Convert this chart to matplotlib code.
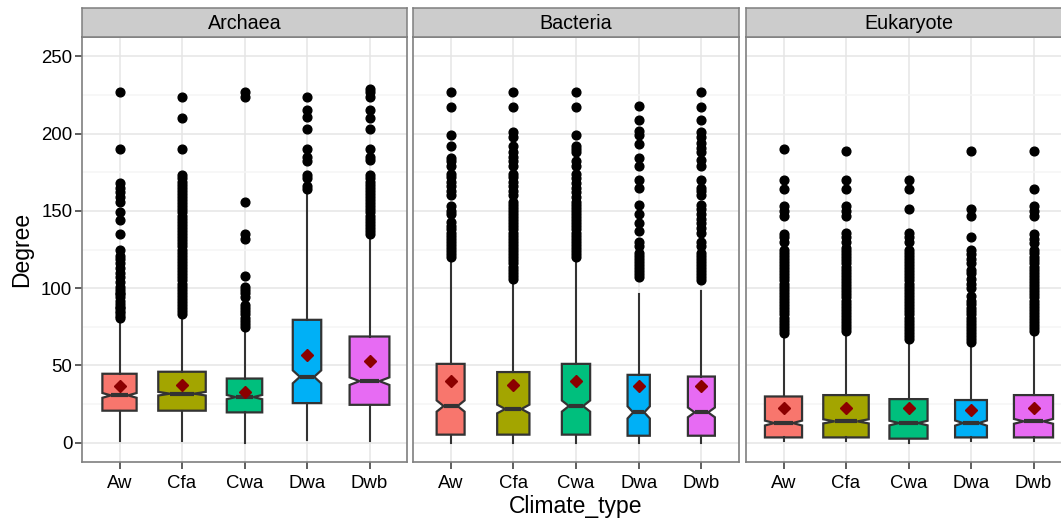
import numpy as np
import matplotlib.pyplot as plt

plt.rcParams["font.family"] = ["Liberation Sans", "DejaVu Sans"]

# ------------------------------------------------------------------------------
# node degree by climate type, one panel per domain
# ------------------------------------------------------------------------------

domains = ["Archaea", "Bacteria", "Eukaryote"]
climates = ["Aw", "Cfa", "Cwa", "Dwa", "Dwb"]
fill_colors = ["#F8766D", "#A3A500", "#00BF7D", "#00B0F6", "#E76BF3"]

# box statistics, one row per domain, columns in climate order
q1 = [[20.7, 20.7, 19.6, 25.6, 24.5],
      [5.2, 5.2, 5.2, 4.5, 4.5],
      [3.4, 3.4, 2.6, 3.4, 3.4]]
median = [[30.6, 31.7, 29.5, 42.6, 39.8],
          [23.7, 21.8, 23.7, 19.6, 19.6],
          [12.7, 13.8, 12.7, 12.7, 13.8]]
q3 = [[44.6, 45.9, 41.5, 79.5, 68.7],
      [51.0, 45.7, 51.0, 43.9, 42.8],
      [29.9, 30.8, 28.2, 27.6, 30.8]]
mean = [[36.4, 37.5, 33.1, 56.6, 53.0],
        [39.6, 37.5, 40.2, 36.4, 36.4],
        [22.4, 22.4, 22.4, 21.3, 22.4]]
whisker_lo = [[1, 1, 0, 2, 1],
              [0, 0, 0, 0, 0],
              [1, 1, 0, 1, 1]]
whisker_hi = [[80, 82, 73, 161, 133],
              [118, 105, 118, 96, 98],
              [69, 71, 65, 63, 70]]
n_obs = [[596, 1147, 639, 412, 806],
         [395, 526, 404, 251, 368],
         [701, 1052, 739, 516, 779]]

outliers = [
    [  # Archaea
        [81, 82, 84, 85, 87, 88, 90, 92, 94, 96, 97, 99, 101, 104, 107, 110,
         113, 116, 119, 121, 125, 135, 144, 149, 156, 159, 162, 165, 168, 190,
         227],
        [83, 85, 87, 89, 91, 93, 95, 97, 99, 101, 103, 105, 107, 109, 111, 113,
         115, 117, 119, 121, 123, 125, 127, 129, 131, 133, 135, 137, 139, 141,
         143, 145, 147, 149, 151, 153, 155, 157, 159, 161, 163, 165, 167, 169,
         171, 173, 190, 210, 224],
        [75, 77, 79, 81, 83, 85, 87, 89, 94, 97, 99, 101, 108, 132, 135, 156,
         224, 227],
        [164, 166, 171, 173, 182, 185, 190, 203, 211, 215, 224],
        [135, 137, 139, 141, 143, 145, 147, 149, 151, 153, 155, 157, 159, 161,
         163, 165, 167, 169, 171, 173, 183, 185, 190, 203, 210, 215, 224, 227,
         229],
    ],
    [  # Bacteria
        [120, 122, 124, 126, 128, 130, 132, 134, 136, 138, 140, 143, 148, 150,
         153, 160, 163, 166, 169, 172, 174, 179, 182, 184, 192, 199, 217, 227],
        [106, 108, 110, 112, 114, 116, 118, 120, 122, 124, 126, 128, 130, 132,
         134, 136, 138, 140, 142, 144, 146, 148, 150, 152, 154, 156, 160, 163,
         166, 169, 172, 174, 179, 182, 185, 188, 192, 198, 201, 217, 227],
        [120, 122, 124, 126, 128, 130, 132, 134, 136, 138, 140, 142, 144, 146,
         148, 150, 152, 154, 156, 159, 162, 165, 168, 171, 174, 179, 182, 188,
         190, 192, 199, 217, 227],
        [107, 109, 111, 113, 115, 117, 119, 121, 123, 127, 130, 137, 142, 148,
         154, 165, 170, 179, 184, 193, 199, 202, 209, 218],
        [105, 107, 109, 111, 113, 115, 117, 119, 121, 123, 127, 130, 136, 139,
         142, 145, 148, 151, 154, 160, 163, 165, 170, 179, 183, 188, 191, 194,
         198, 201, 209, 217, 227],
    ],
    [  # Eukaryote
        [71, 73, 75, 77, 79, 81, 83, 85, 87, 89, 91, 93, 95, 97, 99, 101, 103,
         105, 107, 109, 111, 113, 115, 117, 119, 121, 123, 125, 130, 133, 135,
         147, 150, 153, 164, 170, 190],
        [72, 74, 76, 78, 80, 82, 84, 86, 88, 90, 92, 94, 96, 98, 100, 102, 104,
         106, 108, 110, 112, 114, 116, 118, 120, 122, 124, 126, 130, 133, 136,
         147, 150, 153, 164, 170, 189],
        [67, 69, 71, 73, 75, 77, 79, 81, 83, 85, 87, 89, 91, 93, 95, 97, 99,
         101, 103, 105, 107, 109, 111, 113, 115, 117, 119, 121, 123, 125, 130,
         133, 136, 151, 164, 170],
        [65, 67, 69, 71, 73, 75, 77, 79, 81, 83, 85, 87, 90, 92, 95, 100, 103,
         106, 110, 112, 116, 119, 122, 125, 133, 147, 151, 189],
        [72, 74, 76, 78, 80, 82, 84, 86, 88, 90, 92, 94, 96, 98, 100, 102, 104,
         106, 108, 110, 112, 114, 116, 118, 120, 123, 125, 129, 132, 135, 147,
         150, 153, 164, 189],
    ],
]

# ------------------------------------------------------------------------------

W, H = 1061, 527
fig = plt.figure(figsize=(W / 100, H / 100), dpi=100)

# panel extents in pixels (left, right); last panel runs past the edge
panel_x = [(82, 407), (413, 739), (746, 1071)]
panel_top, panel_bot = 37, 462
strip_top = 8

grey20 = "#333333"
nmax = max(max(r) for r in n_obs)

for d, dom in enumerate(domains):
    x0, x1 = panel_x[d]
    ax = fig.add_axes([x0 / W, 1 - panel_bot / H, (x1 - x0) / W,
                       (panel_bot - panel_top) / H])
    sax = fig.add_axes([x0 / W, 1 - panel_top / H, (x1 - x0) / W,
                        (panel_top - strip_top) / H])

    # strip header
    sax.set_facecolor("#CCCCCC")
    sax.set_xticks([])
    sax.set_yticks([])
    for sp in sax.spines.values():
        sp.set_color("#7F7F7F")
        sp.set_linewidth(1.1)
    sax.text(0.5, 0.48, dom, ha="center", va="center", fontsize=14.2,
             transform=sax.transAxes)

    stats = []
    widths = []
    for c in range(len(climates)):
        iqr = q3[d][c] - q1[d][c]
        half = 1.58 * iqr / np.sqrt(n_obs[d][c])
        stats.append(dict(med=median[d][c], q1=q1[d][c], q3=q3[d][c],
                          whislo=whisker_lo[d][c], whishi=whisker_hi[d][c],
                          mean=mean[d][c], fliers=outliers[d][c],
                          cilo=median[d][c] - half, cihi=median[d][c] + half))
        widths.append(0.76 * np.sqrt(n_obs[d][c] / nmax))

    bp = ax.bxp(stats, positions=np.arange(1, 6), widths=widths,
                patch_artist=True, shownotches=True, showmeans=True,
                showcaps=False,
                boxprops=dict(edgecolor=grey20, linewidth=1.6),
                whiskerprops=dict(color=grey20, linewidth=1.5),
                medianprops=dict(color=grey20, linewidth=3.0),
                meanprops=dict(marker="D", markerfacecolor="#8B0000",
                               markeredgecolor="#8B0000", markersize=6.0),
                flierprops=dict(marker="o", markerfacecolor="black",
                                markeredgecolor="black", markersize=6.3,
                                linestyle="none"),
                zorder=3)
    for patch, col in zip(bp["boxes"], fill_colors):
        patch.set_facecolor(col)

    ax.set_xlim(0.4, 5.6)
    ax.set_ylim(-12.5, 262.5)
    ax.set_xticks(np.arange(1, 6))
    ax.set_xticklabels(climates)
    ax.set_yticks(np.arange(0, 251, 50))
    ax.set_yticks(np.arange(25, 251, 50), minor=True)

    ax.grid(which="major", color="#E5E5E5", linewidth=1.1, zorder=0)
    ax.grid(which="minor", axis="y", color="#F5F5F5", linewidth=1.1, zorder=0)
    ax.set_axisbelow(True)

    ax.tick_params(axis="x", which="major", length=5, width=1.1,
                   color=grey20, labelsize=13.4, pad=4)
    ax.tick_params(axis="y", which="major", length=5, width=1.1,
                   color=grey20, labelsize=13.4, pad=2)
    ax.tick_params(which="minor", length=0)
    if d > 0:
        ax.tick_params(axis="y", which="both", left=False, labelleft=False)

    for sp in ax.spines.values():
        sp.set_color("#7F7F7F")
        sp.set_linewidth(1.2)

    if d == 0:
        ax.set_ylabel("Degree", fontsize=16.5, labelpad=6)

fig.text(576 / W, 1 - 507 / H, "Climate_type", ha="center", va="center",
         fontsize=16.5)

fig.savefig("out.png", dpi=100)
